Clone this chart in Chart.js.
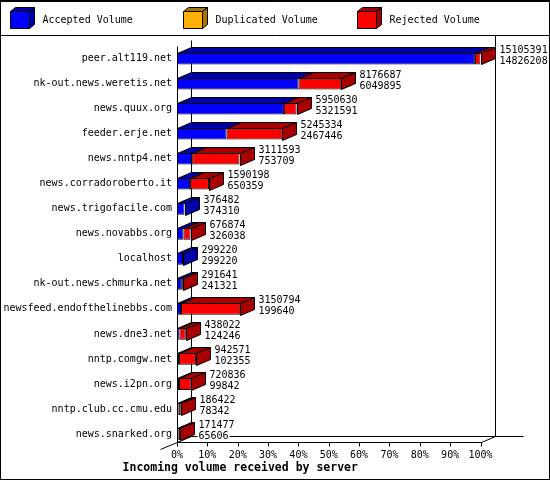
<!DOCTYPE html>
<html>
<head>
<meta charset="utf-8">
<title>Incoming volume received by server</title>
<script src="https://cdn.jsdelivr.net/npm/chart.js@4.4.1/dist/chart.umd.min.js"></script>
<style>
html, body { margin: 0; padding: 0; background: #fff; }
</style>
</head>
<body>
<canvas id="volumeChart" width="550" height="480"></canvas>
<script>
// servers, top to bottom
const servers = ['peer.alt119.net', 'nk-out.news.weretis.net', 'news.quux.org', 'feeder.erje.net',
  'news.nntp4.net', 'news.corradoroberto.it', 'news.trigofacile.com', 'news.novabbs.org',
  'localhost', 'nk-out.news.chmurka.net', 'newsfeed.endofthelinebbs.com', 'news.dne3.net',
  'nntp.comgw.net', 'news.i2pn.org', 'nntp.club.cc.cmu.edu', 'news.snarked.org'];
const totalVolume = [15105391, 8176687, 5950630, 5245334, 3111593, 1590198, 376482, 676874,
  299220, 291641, 3150794, 438022, 942571, 720836, 186422, 171477];
const acceptedVolume = [14826208, 6049895, 5321591, 2467446, 753709, 650359, 374310, 326038,
  299220, 241321, 199640, 124246, 102355, 99842, 78342, 65606];
const duplicatedVolume = [0, 0, 0, 0, 0, 0, 0, 0, 0, 0, 0, 0, 0, 0, 0, 0];

const FONT = '"DejaVu Sans Mono", "Liberation Mono", monospace';
const DX = 14, DY = 6; // depth of the 3d effect

// everything is shown as percent of the biggest server
const peak = Math.max(...totalVolume);
const pct = v => v / peak * 100;
const acceptedPct = acceptedVolume.map(pct);
const duplicatedPct = duplicatedVolume.map(pct);
const rejectedPct = totalVolume.map((t, i) => pct(t - acceptedVolume[i] - duplicatedVolume[i]));

const darker = {'#0000ff': '#0000a8', '#ffb000': '#a87400', '#ff0000': '#a80000'};

function poly(ctx, pts, fill) {
  ctx.beginPath();
  ctx.moveTo(pts[0][0], pts[0][1]);
  for (let k = 1; k < pts.length; k++) ctx.lineTo(pts[k][0], pts[k][1]);
  ctx.closePath();
  ctx.fillStyle = fill;
  ctx.fill();
  ctx.stroke();
}

function line(ctx, x1, y1, x2, y2) {
  ctx.beginPath();
  ctx.moveTo(x1, y1);
  ctx.lineTo(x2, y2);
  ctx.stroke();
}

const innPlugin = {
  id: 'innPlugin',
  beforeDraw(chart) {
    const ctx = chart.ctx;
    ctx.save();
    ctx.fillStyle = '#fff';
    ctx.fillRect(0, 0, chart.width, chart.height);
    ctx.restore();
  },
  beforeDatasetsDraw(chart) {
    const ctx = chart.ctx, a = chart.chartArea, xs = chart.scales.x;
    const floor = a.bottom - 5;
    const x0 = xs.getPixelForValue(0), x100 = xs.getPixelForValue(100);
    ctx.save();
    ctx.strokeStyle = '#000';
    ctx.lineWidth = 1;
    ctx.translate(0.5, 0.5);
    // walls
    line(ctx, Math.round(x0 + DX), 40, Math.round(x0 + DX), Math.round(floor - DY));
    line(ctx, Math.round(x100 + DX), 35, Math.round(x100 + DX), Math.round(floor - DY));
    line(ctx, Math.round(x0), a.top, Math.round(x0), Math.round(floor));
    // floor
    line(ctx, Math.round(x0 + DX), Math.round(floor - DY), 523, Math.round(floor - DY));
    line(ctx, Math.round(x0), Math.round(floor), Math.round(x100), Math.round(floor));
    line(ctx, Math.round(x100), Math.round(floor), Math.round(x100 + DX), Math.round(floor - DY));
    line(ctx, Math.round(x0 + DX), Math.round(floor - DY), Math.round(x0 - 17), Math.round(floor + 7));
    // tick marks
    for (const t of xs.ticks) {
      const px = Math.round(xs.getPixelForValue(t.value));
      line(ctx, px, Math.round(floor), px, Math.round(floor) + 4);
    }
    ctx.restore();
  },
  afterDatasetsDraw(chart) {
    const ctx = chart.ctx;
    const metas = chart.data.datasets.map((d, k) => chart.getDatasetMeta(k));
    ctx.save();
    ctx.strokeStyle = '#000';
    ctx.lineWidth = 1;
    ctx.lineJoin = 'miter';
    servers.forEach((s, i) => {
      let last = null;
      metas.forEach((m, k) => {
        const el = m.data[i];
        const p = el.getProps(['x', 'y', 'base', 'height'], true);
        if (Math.abs(p.x - p.base) < 0.5) return;
        const top = Math.round(p.y - p.height / 2) + 0.5;
        const l = Math.round(p.base) + 0.5, r = Math.round(p.x) + 0.5;
        const dark = darker[chart.data.datasets[k].backgroundColor];
        poly(ctx, [[l, top], [l + DX, top - DY], [r + DX, top - DY], [r, top]], dark);
        last = {r, top, bottom: Math.round(p.y + p.height / 2) + 0.5, dark, y: p.y};
      });
      if (!last) return;
      poly(ctx, [[last.r, last.top], [last.r + DX, last.top - DY],
        [last.r + DX, last.bottom - DY], [last.r, last.bottom]], last.dark);
      // value labels
      ctx.font = '10px ' + FONT;
      ctx.textBaseline = 'middle';
      ctx.textAlign = 'left';
      const tx = last.r + DX + 4;
      const lines = [String(totalVolume[i]), String(acceptedVolume[i])];
      lines.forEach((t, j) => {
        const ty = last.y - 8.5 + j * 11;
        ctx.fillStyle = '#fff';
        ctx.fillRect(tx - 1, ty - 5, ctx.measureText(t).width + 2, 10);
        ctx.fillStyle = '#000';
        ctx.fillText(t, tx, ty);
      });
    });
    ctx.restore();
  },
  afterDraw(chart) {
    const ctx = chart.ctx;
    ctx.save();
    ctx.strokeStyle = '#000';
    ctx.lineWidth = 1;
    ctx.translate(0.5, 0.5);
    // legend with 3d boxes
    const legendX = [10, 183, 357];
    chart.data.datasets.forEach((d, k) => {
      const bx = legendX[k], by = 11, w = 19, h = 17, dx = 5, dy = 4;
      const dark = darker[d.backgroundColor];
      poly(ctx, [[bx, by], [bx + dx, by - dy], [bx + w + dx, by - dy], [bx + w, by]], dark);
      poly(ctx, [[bx + w, by], [bx + w + dx, by - dy], [bx + w + dx, by + h - dy], [bx + w, by + h]], dark);
      poly(ctx, [[bx, by], [bx + w, by], [bx + w, by + h], [bx, by + h]], d.backgroundColor);
      ctx.fillStyle = '#000';
      ctx.font = '10px ' + FONT;
      ctx.textBaseline = 'middle';
      ctx.fillText(d.label, bx + 32, 20);
    });
    line(ctx, 0, 35, chart.width, 35);
    ctx.strokeRect(0, 0, chart.width - 1, chart.height - 1);
    line(ctx, 0, 1, chart.width, 1);
    ctx.restore();
  }
};

const dataVolume = {
  labels: servers,
  datasets: [{
    label: 'Accepted Volume',
    data: acceptedPct,
    backgroundColor: '#0000ff'
  }, {
    label: 'Duplicated Volume',
    data: duplicatedPct,
    backgroundColor: '#ffb000'
  }, {
    label: 'Rejected Volume',
    data: rejectedPct,
    backgroundColor: '#ff0000'
  }]
};

const configVolume = {
  type: 'bar',
  data: dataVolume,
  plugins: [innPlugin],
  options: {
    indexAxis: 'y',
    responsive: false,
    animation: false,
    layout: {padding: {top: 46, right: 69.5, left: 0, bottom: 0}},
    datasets: {
      bar: {
        borderColor: '#000',
        borderWidth: 1,
        borderSkipped: false,
        categoryPercentage: 1,
        barPercentage: 0.47,
        inflateAmount: 0
      }
    },
    scales: {
      x: {
        stacked: true,
        min: 0,
        max: 100,
        grid: {display: false, drawTicks: false},
        border: {display: false},
        ticks: {
          stepSize: 10,
          padding: 3,
          color: '#000',
          font: {family: FONT, size: 10},
          callback: v => v + '%'
        },
        afterFit: s => { s.height = 14.6; }
      },
      y: {
        stacked: true,
        grid: {display: false, drawTicks: false},
        border: {display: false},
        ticks: {
          padding: 5,
          autoSkip: false,
          color: '#000',
          font: {family: FONT, size: 10}
        },
        afterFit: s => { s.width = 177; }
      }
    },
    plugins: {
      legend: {display: false},
      tooltip: {enabled: false},
      title: {
        display: true,
        text: 'Incoming volume received by server',
        position: 'bottom',
        color: '#000',
        font: {family: FONT, size: 11.5, weight: 'bold', lineHeight: 1.2},
        padding: {top: 0, bottom: 5}
      }
    }
  }
};

const volumeChart = new Chart(document.getElementById('volumeChart'), configVolume);
</script>
</body>
</html>
